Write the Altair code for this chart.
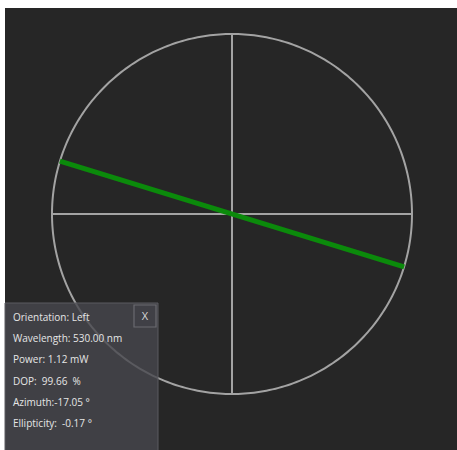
import altair as alt
import numpy as np
import pandas as pd

# ---- data ----
azimuth_deg = -17.05
NB = "\u00a0"
info_labels = ["Orientation: Left", "Wavelength: 530.00 nm", "Power: 1.12 mW",
               f"DOP:{NB}{NB}99.66{NB}{NB}%", "Azimuth:-17.05 °", f"Ellipticity:{NB}{NB}-0.17 °"]
close_label = ["X"]

BG = "#262626"
GRID = "#a3a3a3"
GREEN = "#0b8a0b"

# scales: unit circle, radius 1 maps to 180 px
xs = alt.Scale(domain=[-227 / 180, 225 / 180], nice=False, zero=False)
ys = alt.Scale(domain=[-236 / 180, 206 / 180], nice=False, zero=False)

ang = np.linspace(0, 2 * np.pi, 361)
circle_df = pd.DataFrame({"x": np.cos(ang), "y": np.sin(ang), "o": np.arange(len(ang))})
axes_df = pd.DataFrame({"x": [-1, 0], "y": [0, -1], "x2": [1, 0], "y2": [0, 1]})
a = np.deg2rad(azimuth_deg)
pol_df = pd.DataFrame({"x": [-np.cos(a)], "y": [-np.sin(a)], "x2": [np.cos(a)], "y2": [np.sin(a)]})

noaxis = dict(axis=None)

circle = alt.Chart(circle_df).mark_line(color=GRID, strokeWidth=2).encode(
    x=alt.X("x:Q", scale=xs, **noaxis), y=alt.Y("y:Q", scale=ys, **noaxis), order="o:Q")
cross = alt.Chart(axes_df).mark_rule(color=GRID, strokeWidth=2).encode(
    x=alt.X("x:Q", scale=xs, **noaxis), y=alt.Y("y:Q", scale=ys, **noaxis), x2="x2:Q", y2="y2:Q")
pol = alt.Chart(pol_df).mark_rule(color=GREEN, strokeWidth=5).encode(
    x=alt.X("x:Q", scale=xs, **noaxis), y=alt.Y("y:Q", scale=ys, **noaxis), x2="x2:Q", y2="y2:Q")

panel = alt.Chart(pd.DataFrame({"a": [0]})).mark_rect(
    fill="#47474e", fillOpacity=0.8, stroke="#5a5a60", strokeWidth=1).encode(
    x=alt.value(0), x2=alt.value(153), y=alt.value(295), y2=alt.value(445))

btn = alt.Chart(pd.DataFrame({"a": [0]})).mark_rect(
    fill="#404046", stroke="#6a6a70", strokeWidth=1.2).encode(
    x=alt.value(129), x2=alt.value(151), y=alt.value(297), y2=alt.value(319))
btn_text = alt.Chart(pd.DataFrame({"t": close_label})).mark_text(
    font="Open Sans", fontSize=11, color="#d8d8d8", align="center", baseline="middle").encode(
    text="t:N", x=alt.value(140), y=alt.value(309))

info_df = pd.DataFrame({"t": info_labels, "row": range(len(info_labels))})
info = alt.Chart(info_df).mark_text(
    font="Open Sans", fontSize=10, color="#e6e6e6", align="left", baseline="middle").transform_calculate(
    py="310 + datum.row * 21.2").encode(
    text="t:N", x=alt.value(8), y=alt.Y("py:Q", scale=None, axis=None))

chart = alt.layer(circle, cross, pol, panel, btn, btn_text, info).properties(
    width=452, height=442,
    padding={"left": 5, "top": 8, "right": 0, "bottom": 0},
    autosize=alt.AutoSizeParams(type="none"),
    background="white",
).configure_view(fill=BG, stroke=None)

chart.save("out.html", embed_options={"renderer": "svg", "actions": False})
